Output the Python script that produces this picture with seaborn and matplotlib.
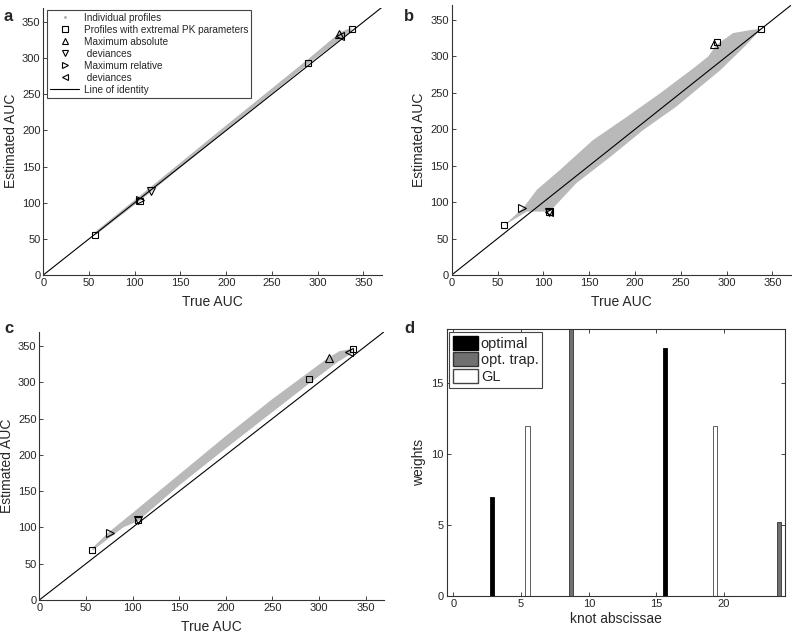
import numpy as np
import pandas as pd
import matplotlib
matplotlib.use("Agg")
import matplotlib.pyplot as plt
from matplotlib.lines import Line2D
from matplotlib.patches import Patch
import seaborn as sns

# ---------------- data ----------------
ticks_auc = [0, 50, 100, 150, 200, 250, 300, 350]

# panel a
a_upper_x = [57, 106, 200, 289, 325, 337]
a_upper_y = [60, 110, 207, 298, 336, 342]
a_lower_x = [57, 106, 200, 289, 337]
a_lower_y = [55, 103, 200, 291, 338]
a_sq_x = [57, 106, 289, 337]
a_sq_y = [56, 103, 293, 340]
a_up = (323, 333)
a_down = (118, 116)
a_right = (106, 104)
a_left = (324, 331)

# panel b
b_upper_x = [57, 78, 93, 118, 154, 191, 227, 264, 280, 289, 307, 325, 338]
b_upper_y = [68, 92, 117, 144, 185, 217, 249, 284, 300, 316, 332, 336, 338]
b_lower_x = [57, 82, 107, 136, 173, 209, 245, 293, 320, 338]
b_lower_y = [68, 87, 87, 126, 162, 199, 231, 281, 314, 338]
b_sq_x = [57, 106, 289, 337]
b_sq_y = [68, 86, 320, 338]
b_up = (286, 317)
b_down = (106, 86)
b_right = (77, 92)
b_left = (106, 87)

# panel c
c_upper_x = [57, 75, 100, 150, 200, 250, 289, 310, 322, 335]
c_upper_y = [72, 94, 120, 173, 226, 277, 314, 334, 343, 346]
c_lower_x = [57, 90, 106, 150, 200, 250, 289, 320, 335]
c_lower_y = [68, 100, 109, 158, 209, 259, 298, 328, 340]
c_sq_x = [57, 106, 289, 336]
c_sq_y = [69, 110, 305, 346]
c_up = (311, 333)
c_down = (106, 110)
c_right = (76, 92)
c_left = (332, 342)

# panel d
knots_opt = [2.84, 15.6]
weights_opt = [6.95, 17.5]
knots_trap = [8.7, 24.05]
weights_trap = [19.0, 5.2]
knots_gl = [5.47, 19.34]
weights_gl = [12.0, 12.0]

# ---------------- style ----------------
sns.set_theme(style="ticks")
plt.rcParams["font.family"] = ["Liberation Sans", "DejaVu Sans"]
plt.rcParams["xtick.direction"] = "in"
plt.rcParams["ytick.direction"] = "in"
plt.rcParams["axes.edgecolor"] = "#333333"
plt.rcParams["axes.linewidth"] = 0.8

BAND = "#b9b9b9"
TICK_FS = 8
LAB_FS = 10

fig = plt.figure(figsize=(7.93, 6.35), dpi=100)
W, H = 793, 635


def rect(l, r, b, t):
    return [l / W, 1 - b / H, (r - l) / W, (b - t) / H]


ax_a = fig.add_axes(rect(43.3, 381.7, 275, 7.5))
ax_b = fig.add_axes(rect(451.7, 790.8, 275, 5.4))
ax_c = fig.add_axes(rect(39.3, 384.4, 600, 331.5))
ax_d = fig.add_axes(rect(446.7, 785, 596, 329.3))

mk = dict(linestyle="none", markerfacecolor="none", markeredgecolor="black",
          markeredgewidth=0.8)


def auc_panel(ax, ux, uy, lx, ly, sqx, sqy, up, down, right, left):
    poly_x = list(ux) + list(lx[::-1])
    poly_y = list(uy) + list(ly[::-1])
    ax.fill(poly_x, poly_y, color=BAND, lw=0, zorder=1)
    ident = pd.DataFrame({"x": [0, 370], "y": [0, 370]})
    sns.lineplot(data=ident, x="x", y="y", ax=ax, color="black", lw=0.8, zorder=2)
    ax.plot(sqx, sqy, marker="s", markersize=5, zorder=3, **mk)
    ax.plot([up[0]], [up[1]], marker="^", markersize=6, zorder=3, **mk)
    ax.plot([down[0]], [down[1]], marker="v", markersize=6, zorder=3, **mk)
    ax.plot([right[0]], [right[1]], marker=">", markersize=6, zorder=3, **mk)
    ax.plot([left[0]], [left[1]], marker="<", markersize=6, zorder=3, **mk)
    ax.set_xlim(0, 370)
    ax.set_ylim(0, 370)
    ax.set_xticks(ticks_auc)
    ax.set_yticks(ticks_auc)
    ax.tick_params(labelsize=TICK_FS, length=3, width=0.6, pad=2)
    ax.set_xlabel("True AUC", fontsize=LAB_FS, labelpad=5)
    ax.set_ylabel("Estimated AUC", fontsize=LAB_FS, labelpad=3)
    sns.despine(ax=ax)


auc_panel(ax_a, a_upper_x, a_upper_y, a_lower_x, a_lower_y, a_sq_x, a_sq_y,
          a_up, a_down, a_right, a_left)
auc_panel(ax_b, b_upper_x, b_upper_y, b_lower_x, b_lower_y, b_sq_x, b_sq_y,
          b_up, b_down, b_right, b_left)
auc_panel(ax_c, c_upper_x, c_upper_y, c_lower_x, c_lower_y, c_sq_x, c_sq_y,
          c_up, c_down, c_right, c_left)

# legend panel a
hkw = dict(linestyle="none", markerfacecolor="none", markeredgecolor="black",
           markeredgewidth=0.8, markersize=5)
handles = [
    Line2D([], [], linestyle="none", marker=".", markersize=2, color="#aaaaaa"),
    Line2D([], [], marker="s", **hkw),
    Line2D([], [], marker="^", **hkw),
    Line2D([], [], marker="v", **hkw),
    Line2D([], [], marker=">", **hkw),
    Line2D([], [], marker="<", **hkw),
    Line2D([], [], color="black", lw=0.8),
]
labels = ["Individual profiles", "Profiles with extremal PK parameters",
          "Maximum absolute", " deviances", "Maximum relative", " deviances",
          "Line of identity"]
leg = ax_a.legend(handles, labels, loc="upper left", bbox_to_anchor=(0.011, 0.992),
                  borderaxespad=0, fontsize=7.2, frameon=True, fancybox=False,
                  edgecolor="#444444", handlelength=2.9, handletextpad=0.45,
                  labelspacing=0.2, borderpad=0.3, framealpha=1)
leg.get_frame().set_linewidth(0.8)

# panel d
bw = 0.3
ax_d.bar(knots_opt, weights_opt, width=bw, color="black", edgecolor="black", lw=0.6)
ax_d.bar(knots_trap, weights_trap, width=bw, color="#707070", edgecolor="#333333", lw=0.6)
ax_d.bar(knots_gl, weights_gl, width=bw, color="white", edgecolor="#444444", lw=0.6)
ax_d.set_xlim(-0.5, 24.5)
ax_d.set_ylim(0, 18.8)
ax_d.set_xticks([0, 5, 10, 15, 20])
ax_d.set_yticks([0, 5, 10, 15])
ax_d.tick_params(labelsize=TICK_FS, length=3, width=0.6, pad=2,
                 top=True, right=True)
ax_d.set_xlabel("knot abscissae", fontsize=LAB_FS, labelpad=2)
ax_d.set_ylabel("weights", fontsize=LAB_FS, labelpad=4)
dh = [Patch(facecolor="black", edgecolor="black"),
      Patch(facecolor="#707070", edgecolor="#333333"),
      Patch(facecolor="white", edgecolor="#444444")]
legd = ax_d.legend(dh, ["optimal", "opt. trap.", "GL"], loc="upper left",
                   bbox_to_anchor=(0.008, 0.99), borderaxespad=0, fontsize=10.5,
                   fancybox=False, edgecolor="#444444", handlelength=1.7,
                   handleheight=1.1, handletextpad=0.2, labelspacing=0.12,
                   borderpad=0.25, framealpha=1)
legd.get_frame().set_linewidth(0.8)

# panel letters
for x, y, s in [(4, 9, "a"), (404, 9, "b"), (4, 321, "c"), (404, 321, "d")]:
    fig.text(x / W, 1 - y / H, s, fontsize=12, fontweight="bold", va="top", ha="left")

fig.savefig("out.png", dpi=100)
